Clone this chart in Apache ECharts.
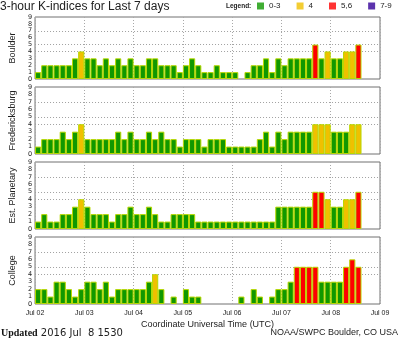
<!DOCTYPE html>
<html><head><meta charset="utf-8">
<script src="https://cdn.jsdelivr.net/npm/echarts@6/dist/echarts.min.js"></script>
<style>html,body{margin:0;padding:0;background:#fff}#c{width:400px;height:340px}</style>
</head><body><div id="c"></div>
<script>
const dayLabels = ['Jul 02','Jul 03','Jul 04','Jul 05','Jul 06','Jul 07','Jul 08','Jul 09'];
const hours = ['00','03','06','09','12','15','18','21'];
const stationNames = ['Boulder','Fredericksburg','Est. Planetary','College'];
const boulder = [1,2,2,2,2,2,3,4, 3,3,2,3,2,3,2,3, 2,2,3,3,2,2,2,1, 2,3,2,1,1,2,1,1, 1,0,1,2,2,3,1,3, 2,3,3,3,3,5,3,4, 3,3,4,4,5,0,0,0];
const fredericksburg = [1,2,2,2,3,2,3,4, 2,2,2,2,2,3,2,3, 2,2,3,2,3,2,2,1, 2,2,2,1,2,2,2,1, 1,1,1,1,2,3,1,3, 2,3,3,3,3,4,4,4, 3,3,3,4,4,0,0,0];
const planetary = [1,2,1,1,2,2,3,4, 3,2,2,2,1,2,2,3, 2,2,3,2,1,1,2,2, 2,2,1,1,1,1,1,1, 1,1,1,1,1,1,1,3, 3,3,3,3,3,5,5,4, 3,3,4,4,5,null,null,null];
const college = [2,2,1,3,3,2,1,2, 3,3,2,3,1,2,2,2, 2,2,3,4,2,0,1,0, 2,1,1,0,0,0,0,0, 0,1,0,2,1,0,1,2, 2,3,5,5,5,5,3,3, 3,3,5,6,5,0,0,0];
const yTicks = [0,1,2,3,4,5,6,7,8,9];
const guideLevels = [4,5,7];
const legendNames = ['0-3','4','5,6','7-9'];

const categories = [];
dayLabels.slice(0,7).forEach(d => hours.forEach(h => categories.push(d + ' ' + h)));
const stations = [boulder, fredericksburg, planetary, college];

const COLORS = {g:'#109800', y:'#f0c000', r:'#ff0000', p:'#330099'};
function colorFor(v){ return v <= 3 ? COLORS.g : v === 4 ? COLORS.y : v <= 6 ? COLORS.r : COLORS.p; }

const gridTops = [17, 87, 162, 237];
const gridHeights = [62, 67, 67, 67];
const grids = [], xAxes = [], yAxes = [], series = [];
stations.forEach((vals, i) => {
  grids.push({left:25, width:355, top:gridTops[i], height:gridHeights[i], show:true, borderColor:'#707070', borderWidth:1, backgroundColor:'#fff'});
  xAxes.push({type:'category', gridIndex:i, position:'bottom', data:categories, boundaryGap:true, show:false});
  xAxes.push({type:'value', gridIndex:i, position:'bottom', min:0, max:7, interval:1,
    axisLine:{show:false}, axisTick:{show:false},
    splitLine:{show:true, lineStyle:{type:[1,2], color:'#a8a8a8', width:1}},
    axisLabel:{show:i===3, fontSize:7, color:'#222', margin:6, fontFamily:'Liberation Sans',
      formatter:v => dayLabels[v]},
    name: i===3 ? 'Coordinate Universal Time (UTC)' : '', nameLocation:'middle', nameGap:16,
    nameTextStyle:{fontSize:9, color:'#222', fontFamily:'Liberation Sans'}
  });
  yAxes.push({type:'value', gridIndex:i, position:'left', min:yTicks[0], max:yTicks[yTicks.length-1], interval:1,
    axisLine:{show:false}, axisTick:{show:false}, splitLine:{show:false},
    axisLabel:{fontSize:6.5, color:'#222', margin:3, fontFamily:'DejaVu Sans'},
    name:stationNames[i], nameLocation:'middle', nameGap:18, nameRotate:90,
    nameTextStyle:{fontSize:9, color:'#222', fontFamily:'Liberation Sans'}
  });
  series.push({type:'bar', xAxisIndex:i*2, yAxisIndex:i, barWidth:'100%', barCategoryGap:'0%', z:3,
    data: vals.map(v => v == null ? null : {value:v, itemStyle:{color:colorFor(v), borderColor:'#b8d800', borderWidth: v===0 ? 0 : 1}}),
    markLine:{silent:true, symbol:['none','none'], z:1, label:{show:false},
      lineStyle:{type:[1,2], color:'#a0a0a0', width:1},
      data: guideLevels.map(l => ({yAxis:l}))}
  });
});
legendNames.forEach((n, k) => {
  series.push({type:'scatter', name:n, xAxisIndex:1, yAxisIndex:0, data:[],
    itemStyle:{color:[COLORS.g, COLORS.y, COLORS.r, COLORS.p][k]}});
});

const chart = echarts.init(document.getElementById('c'), null, {renderer:'canvas'});
chart.setOption({
  animation:false,
  backgroundColor:'#fff',
  title:[
    {text:'3-hour K-indices for Last 7 days', left:0, top:1, padding:0,
      textStyle:{fontSize:12, fontWeight:'normal', color:'#222', fontFamily:'Liberation Sans'}},
    {text:'{b|Updated} 2016 Jul  8 1530', left:1, top:328, padding:0,
      textStyle:{fontSize:10, fontWeight:'normal', color:'#222', fontFamily:'DejaVu Sans',
        rich:{b:{fontFamily:'Liberation Serif', fontWeight:'bold', fontSize:10, color:'#111'}}}},
    {text:'NOAA/SWPC Boulder, CO USA', right:2, top:328, padding:0,
      textStyle:{fontSize:9, fontWeight:'normal', color:'#222', fontFamily:'Liberation Sans'}}
  ],
  legend:{data:legendNames, left:257, top:2, padding:0, icon:'rect', itemWidth:7, itemHeight:7, itemGap:16,
    selectedMode:false, textStyle:{fontSize:8, color:'#222', fontFamily:'Liberation Sans'}},
  graphic:[{type:'text', left:226, top:3, style:{text:'Legend:', font:'bold 6.5px Liberation Sans', fill:'#222'}}],
  grid:grids, xAxis:xAxes, yAxis:yAxes, series:series
});
</script></body></html>
